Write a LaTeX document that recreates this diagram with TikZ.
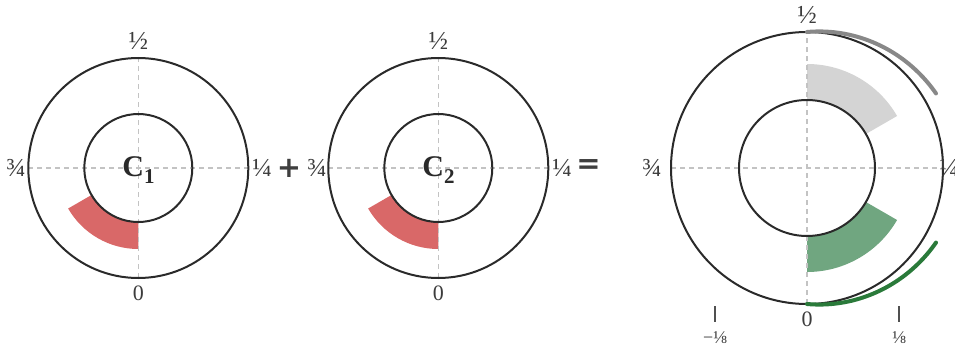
\documentclass[tikz,border=0pt]{standalone}
\usepackage{fontspec}
\setmainfont{Liberation Serif}
\newfontfamily\opfont{DejaVu Sans}
\definecolor{ink}{RGB}{42,42,42}
\definecolor{dashc}{RGB}{195,195,195}
\definecolor{redf}{RGB}{217,104,104}
\definecolor{grayf}{RGB}{212,212,212}
\definecolor{greenf}{RGB}{112,166,128}
\definecolor{grayarc}{RGB}{136,136,136}
\definecolor{greenarc}{RGB}{42,122,58}
\definecolor{lbl}{RGB}{60,60,60}
\begin{document}
\begin{tikzpicture}[x=1pt,y=1pt,
  ring/.style={draw=ink, line width=2pt, circle, inner sep=0pt},
  axis/.style={draw=dashc, line width=1.2pt, dash pattern=on 5pt off 4pt},
  lab/.style={text=lbl, font=\fontsize{22}{22}\selectfont, inner sep=0pt},
  frac/.style={text=lbl, font=\fontsize{26}{26}\selectfont, inner sep=0pt},
  smalllab/.style={text=lbl, font=\fontsize{18}{18}\selectfont, inner sep=0pt},
  op/.style={text=ink!90, font=\opfont\bfseries\fontsize{29}{29}\selectfont, inner sep=0pt},
  cname/.style={text=ink, font=\bfseries\fontsize{30}{30}\selectfont, inner sep=0pt},
  tick/.style={draw=lbl!90, line width=1.6pt},
  spiral/.style={line width=4pt, line cap=round}]
\path[use as bounding box] (0,0) rectangle (955,349);

% centres
\coordinate (c1) at (138.3,181);
\coordinate (c2) at (438.3,181);
\coordinate (c3) at (807,181);

% sectors
\foreach \c in {c1,c2}{
  \fill[redf] ([shift={(210:81)}]\c) arc[start angle=210,end angle=270,radius=81]
     -- ([shift={(270:54)}]\c) arc[start angle=270,end angle=210,radius=54] -- cycle;
}
\fill[grayf] ([shift={(30:104)}]c3) arc[start angle=30,end angle=90,radius=104]
     -- ([shift={(90:68)}]c3) arc[start angle=90,end angle=30,radius=68] -- cycle;
\fill[greenf] ([shift={(270:104)}]c3) arc[start angle=270,end angle=330,radius=104]
     -- ([shift={(330:68)}]c3) arc[start angle=330,end angle=270,radius=68] -- cycle;

% dashed axes
\foreach \c/\r in {c1/110,c2/110,c3/136}{
  \draw[axis] ([xshift=-\r pt]\c) -- ([xshift=\r pt]\c);
  \draw[axis] ([yshift=-\r pt]\c) -- ([yshift=\r pt]\c);
}

% rings
\node[ring, minimum size=220pt] (o1) at (c1) {};
\node[ring, minimum size=108pt] (i1) at (c1) {};
\node[ring, minimum size=220pt] (o2) at (c2) {};
\node[ring, minimum size=108pt] (i2) at (c2) {};
\node[ring, minimum size=272pt] (o3) at (c3) {};
\node[ring, minimum size=136pt] (i3) at (c3) {};

% spiral arcs
\draw[spiral, grayarc] plot[domain=0:1, samples=50, variable=\t]
  ({807+(136+13*\t)*cos(90-60*\t)}, {181+(136+13*\t)*sin(90-60*\t)});
\draw[spiral, greenarc] plot[domain=0:1, samples=50, variable=\t]
  ({807+(136+13*\t)*cos(270+60*\t)}, {181+(136+13*\t)*sin(270+60*\t)});

% centre names
\node[cname] (n1) at (138.5,179) {C\raisebox{-7pt}{\fontsize{21}{21}\selectfont 1}};
\node[cname] (n2) at (438.5,179) {C\raisebox{-7pt}{\fontsize{21}{21}\selectfont 2}};

% operators
\node[op] (plus) at (289,181) {+};
\node[op] (eq) at (588.5,182) {=};

% labels circle 1
\node[frac] (h1) at (138.3,308) {½};
\node[frac] (t1) at (16,181) {¾};
\node[frac] (q1) at (262,181) {¼};
\node[lab] (z1) at (138.3,56) {0};
% labels circle 2
\node[frac] (h2) at (438.3,308) {½};
\node[frac] (t2) at (317,181) {¾};
\node[frac] (q2) at (562,181) {¼};
\node[lab] (z2) at (438.3,56) {0};
% labels circle 3
\node[frac] (h3) at (807,334) {½};
\node[frac] (t3) at (652,181) {¾};
\node[frac] (q3) at (949,181) {¼};
\node[lab] (z3) at (807,30) {0};

% ticks
\coordinate (ka1) at (715,43);
\coordinate (kb1) at (715,27);
\coordinate (ka2) at (899,43);
\coordinate (kb2) at (899,27);
\draw[tick] (ka1) -- (kb1);
\draw[tick] (ka2) -- (kb2);
\node[smalllab] (m8) at (715,11) {−⅛};
\node[smalllab] (p8) at (899,11) {⅛};
\end{tikzpicture}
\end{document}
